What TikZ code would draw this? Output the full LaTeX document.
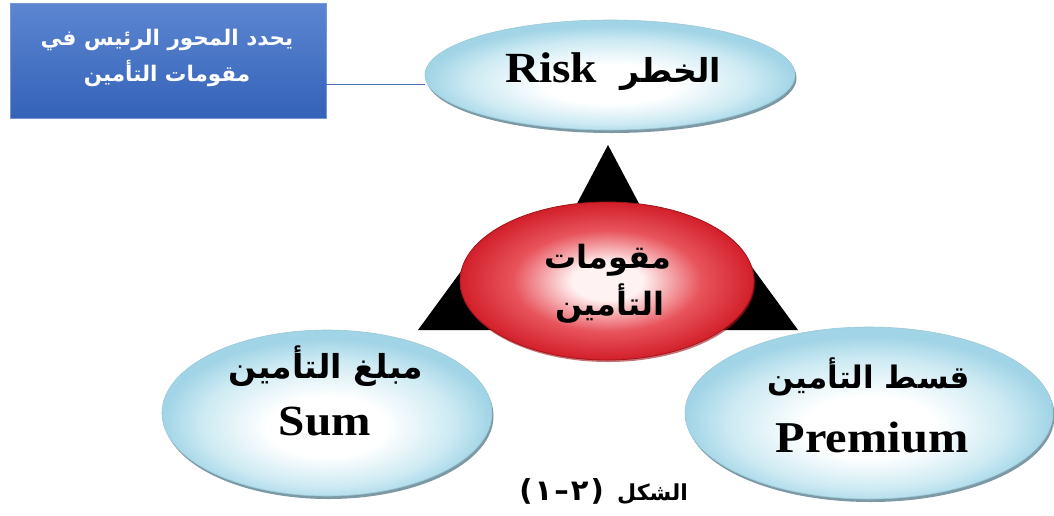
\documentclass[tikz,border=0pt]{standalone}
\usepackage{fontspec}
\setmainfont{Liberation Serif}
\newfontfamily\arfont[Script=Arabic]{DejaVu Sans}
\newfontfamily\plainsans{DejaVu Sans}
\newfontfamily\wideserif[FakeStretch=1.1]{Liberation Serif}
\TeXXeTstate=1
\usetikzlibrary{shapes.geometric,shadows}
\definecolor{bubA}{HTML}{CDEAF3}
\definecolor{bubB}{HTML}{A0D4E6}
\definecolor{bubShadow}{HTML}{6F8F9C}
\definecolor{bubEdge}{HTML}{9CC8D6}
\definecolor{redW}{HTML}{FFF2F2}
\definecolor{redA}{HTML}{E8545C}
\definecolor{redB}{HTML}{D21F2A}
\definecolor{redEdge}{HTML}{A3141B}
\definecolor{boxTop}{HTML}{5C86D1}
\definecolor{boxBot}{HTML}{3462B8}
\definecolor{boxEdge}{HTML}{7698D8}
\definecolor{lineBlue}{HTML}{4A70B8}
\pgfdeclareradialshading{bluebub}{\pgfpoint{0bp}{-5bp}}{color(0bp)=(white); color(9bp)=(white); color(19bp)=(bubA); color(25bp)=(bubB); color(50bp)=(bubB)}
\pgfdeclareradialshading{redbub}{\pgfpoint{0bp}{0bp}}{color(0bp)=(redW); color(6bp)=(redW); color(16bp)=(redA); color(25bp)=(redB); color(50bp)=(redB)}
\tikzset{
  bubble/.style={ellipse, inner sep=0pt, shading=bluebub, draw=bubEdge, line width=0.6pt,
    drop shadow={shadow xshift=1.5pt, shadow yshift=-3pt, fill=bubShadow, opacity=0.9}},
  corebubble/.style={ellipse, inner sep=0pt, shading=redbub, draw=redEdge, line width=0.8pt,
    drop shadow={shadow xshift=1pt, shadow yshift=-2pt, fill=redEdge, opacity=0.6}},
  latinlabel/.style={anchor=base, inner sep=0pt, font=\wideserif\bfseries\fontsize{43}{43}\selectfont},
  arlabel/.style={anchor=base, inner sep=0pt, font=\arfont\bfseries\fontsize{33}{33}\selectfont},
  notebox/.style={rectangle, inner sep=0pt, top color=boxTop, bottom color=boxBot, draw=boxEdge, line width=0.6pt},
  notetext/.style={inner sep=0pt, text=white, align=center, font=\arfont\bfseries\fontsize{21.5}{36}\selectfont},
  pointer/.style={fill=black, draw=none},
  link/.style={draw=lineBlue, line width=0.8pt},
  caption/.style={anchor=base, inner sep=0pt, font=\arfont\bfseries\fontsize{22}{22}\selectfont},
  capnumber/.style={anchor=base, inner sep=0pt, font=\plainsans\bfseries\fontsize{29}{29}\selectfont}
}
\begin{document}
\begin{tikzpicture}[x=1pt,y=-1pt]
\useasboundingbox (0,0) rectangle (1054,515);
\fill[white] (0,0) rectangle (1054,515);

% pointer triangles behind the core ellipse
\fill[pointer] (608,145) -- (563,230) -- (653,230) -- cycle;
\fill[pointer] (418,330) -- (478,248) -- (538,330) -- cycle;
\fill[pointer] (798,330) -- (738,248) -- (678,330) -- cycle;

% ellipses
\node[bubble, minimum width=370pt, minimum height=110pt] (risk) at (610,75) {};
\node[bubble, minimum width=330pt, minimum height=166pt] (sum) at (327,413) {};
\node[bubble, minimum width=368pt, minimum height=172pt] (premium) at (869,413) {};
\node[corebubble, minimum width=294pt, minimum height=158pt] (core) at (607,281) {};

% labels
\node[latinlabel] (riskEn) at (551,82) {Risk};
\node[arlabel] (riskAr) at (671,82) {\beginR الخطر\endR};
\node[arlabel] (sumAr) at (326,378) {\beginR مبلغ التأمين\endR};
\node[latinlabel] (sumEn) at (325,435) {Sum};
\node[arlabel, font=\arfont\bfseries\fontsize{31}{31}\selectfont] (premAr) at (869,388) {\beginR قسط التأمين\endR};
\node[latinlabel, font=\wideserif\bfseries\fontsize{44}{44}\selectfont] (premEn) at (872,452) {Premium};
\node[arlabel, font=\arfont\bfseries\fontsize{32}{32}\selectfont] (coreA) at (608,268) {\beginR مقومات\endR};
\node[arlabel, font=\arfont\bfseries\fontsize{32}{32}\selectfont] (coreB) at (610,315) {\beginR التأمين\endR};

% note box and its connector
\node[notebox, minimum width=316pt, minimum height=115pt] (note) at (168,60.5) {};
\node[notetext] (noteText) at (167,58)
  {\beginR يحدد المحور الرئيس في\endR\\ \beginR مقومات التأمين\endR};
\coordinate (linelevel) at (0,84);
\draw[link] (note.east |- linelevel) -- (risk.west |- linelevel);

% caption: number glyphs boxed one by one, in the order they are seen
\node[capnumber, anchor=base east] (capNum) at (604,500)
  {\mbox{(}\hspace{2pt}\mbox{١}\hspace{2pt}\mbox{–}\hspace{2pt}\mbox{٢}\hspace{2pt}\mbox{)}};
\node[caption, anchor=base west] (capWord) at (617,500) {\beginR الشكل\endR};
\end{tikzpicture}
\end{document}
